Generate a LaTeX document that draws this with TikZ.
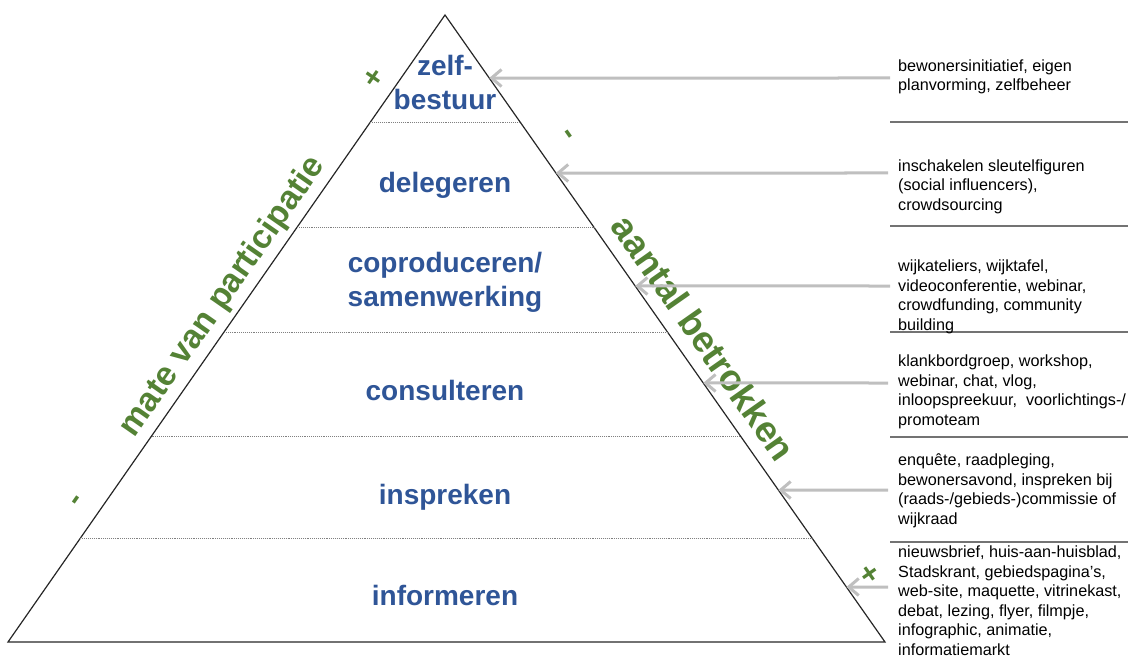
\documentclass[tikz,border=0pt]{standalone}
\usepackage{fontspec}
\setmainfont{Liberation Sans}
\usepackage{tikz}
\usetikzlibrary{arrows.meta}
\usetikzlibrary{calc}
\definecolor{stepblue}{HTML}{2F5597}
\definecolor{axisgreen}{HTML}{548235}
\definecolor{arrowgrey}{HTML}{BFBFBF}
\tikzset{
  stagebox/.style={font=\fontsize{28}{34}\selectfont\bfseries, text=stepblue, align=center, inner sep=0pt, anchor=base},
  methodtext/.style={font=\fontsize{16.2}{19.5}\selectfont, align=left, inner sep=0pt, anchor=base west},
  axislabel/.style={font=\fontsize{33.5}{40}\selectfont\bfseries, text=axisgreen, inner sep=0pt},
  signmark/.style={font=\fontsize{30}{34}\selectfont\bfseries, text=axisgreen, inner sep=0pt},
  pointer/.style={draw=arrowgrey, line width=3pt, -{Straight Barb[length=10pt,width=17pt]}},
  band/.style={draw=black!50, line width=0.9pt, densely dotted},
  rowline/.style={draw=black!55, line width=1.3pt}
}

\begin{document}
\begin{tikzpicture}[x=1pt,y=-1pt]
\useasboundingbox (0,0) rectangle (1128,658);
\coordinate (apex) at (445,15);
\coordinate (bl) at (8,642);
\coordinate (br) at (885,642);
\draw[line width=1.2pt, black!85] (apex) -- (bl) -- (br) -- cycle;

% bands of the pyramid
\draw[band] ($(apex)!0.1707!(bl)$) -- ($(apex)!0.1707!(br)$);
\draw[band] ($(apex)!0.3381!(bl)$) -- ($(apex)!0.3381!(br)$);
\draw[band] ($(apex)!0.5056!(bl)$) -- ($(apex)!0.5056!(br)$);
\draw[band] ($(apex)!0.6715!(bl)$) -- ($(apex)!0.6715!(br)$);
\draw[band] ($(apex)!0.8341!(bl)$) -- ($(apex)!0.8341!(br)$);

% base = last line
\node[stagebox] (zelf) at (445,109.5) {zelf-\\bestuur};
\node[stagebox] (deleg) at (445,193) {delegeren};
\node[stagebox] (copro) at (445,306) {coproduceren/\\samenwerking};
\node[stagebox] (consu) at (445,400) {consulteren};
\node[stagebox] (inspr) at (445,504) {inspreken};
\node[stagebox] (infor) at (445,605) {informeren};

% axes along the sides
\node[axislabel, rotate=55.1] (mate) at (223,297) {mate van participatie};
\node[axislabel, rotate=-54.9, font=\fontsize{36.5}{42}\selectfont\bfseries] (aantal) at (704,338) {aantal betrokken};
\node[signmark, rotate=55.1] (plusl) at (374,78) {+};
\node[signmark, rotate=55.1] (minl) at (78,502) {-};
\node[signmark, rotate=-54.9] (minr) at (566,136) {-};
\node[signmark, rotate=-54.9] (plusr) at (869,575) {+};

% right column
\draw[rowline] (890,122) -- (1128,122);
\draw[rowline] (890,226) -- (1128,226);
\draw[rowline] (890,332) -- (1128,332);
\draw[rowline] (890,437) -- (1128,437);
\draw[rowline] (890,542) -- (1128,542);

\node[methodtext] (zelfm) at (898,91) {bewonersinitiatief, eigen\\planvorming, zelfbeheer};
\node[methodtext] (delegm) at (898,210.5) {inschakelen sleutelfiguren\\(social influencers),\\crowdsourcing};
\node[methodtext] (coprom) at (898,330) {wijkateliers, wijktafel,\\videoconferentie, webinar,\\crowdfunding, community\\building};
\node[methodtext] (consum) at (898,425) {klankbordgroep, workshop,\\webinar, chat, vlog,\\inloopspreekuur,\ \ voorlichtings-/\\promoteam};
\node[methodtext] (insprm) at (898,524) {enquête, raadpleging,\\bewonersavond, inspreken bij\\(raads-/gebieds-)commissie of\\wijkraad};
\node[methodtext] (inform) at (898,655) {nieuwsbrief, huis-aan-huisblad,\\Stadskrant, gebiedspagina’s,\\web-site, maquette, vitrinekast,\\debat, lezing, flyer, filmpje,\\infographic, animatie,\\informatiemarkt};

% arrows to the pyramid
\coordinate (zelfs) at (890,78);
\coordinate (delegs) at (888,173);
\coordinate (copros) at (890,286);
\coordinate (consus) at (888,383);
\coordinate (insprs) at (888,490);
\coordinate (infors) at (888,587);
\coordinate (zelfe) at ($(apex)!0.1005!(br)$);
\coordinate (delege) at ($(apex)!0.2520!(br)$);
\coordinate (coproe) at ($(apex)!0.4322!(br)$);
\coordinate (consue) at ($(apex)!0.5869!(br)$);
\coordinate (inspre) at ($(apex)!0.7576!(br)$);
\coordinate (infore) at ($(apex)!0.9123!(br)$);
\draw[pointer] (zelfs) -- (zelfe);
\draw[pointer] (delegs) -- (delege);
\draw[pointer] (copros) -- (coproe);
\draw[pointer] (consus) -- (consue);
\draw[pointer] (insprs) -- (inspre);
\draw[pointer] (infors) -- (infore);
\end{tikzpicture}
\end{document}
